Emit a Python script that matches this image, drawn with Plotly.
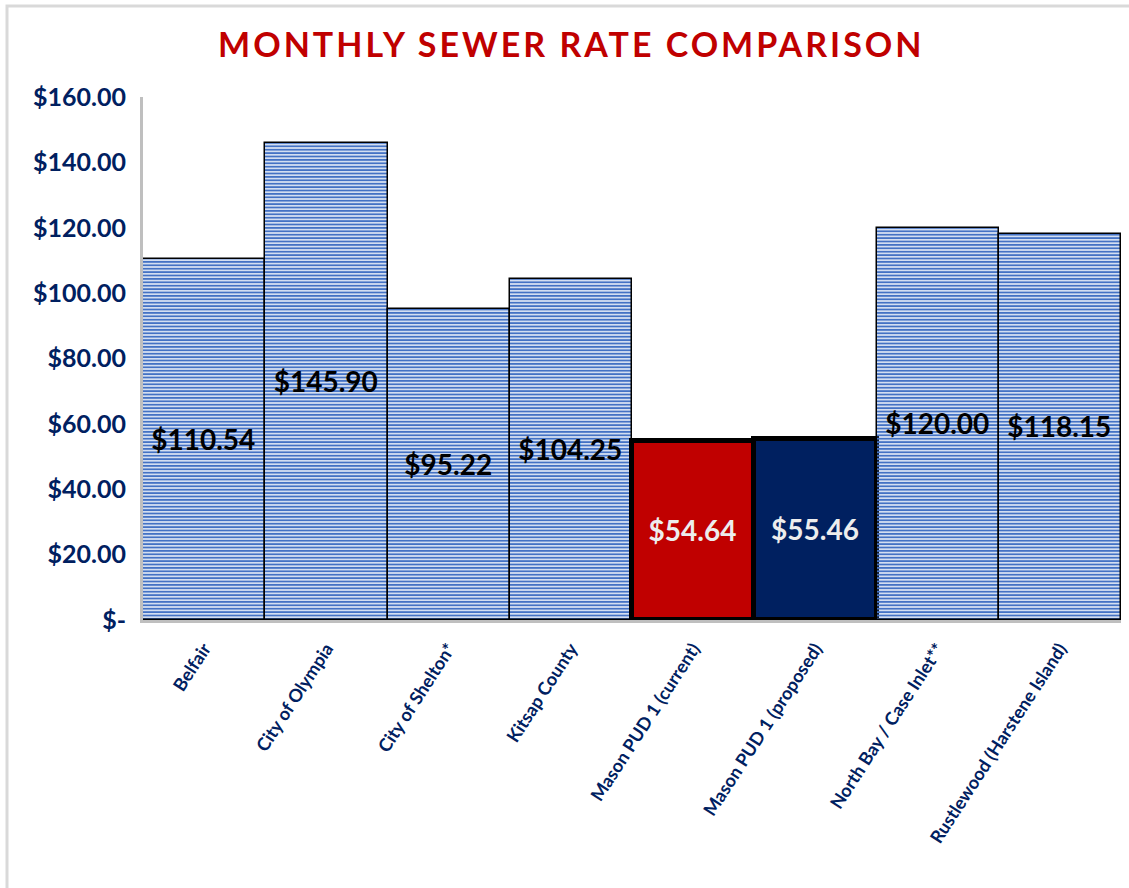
import plotly.graph_objects as go

categories = ["Belfair", "City of Olympia", "City of Shelton*", "Kitsap County",
              "Mason PUD 1 (current)", "Mason PUD 1 (proposed)",
              "North Bay / Case Inlet**", "Rustlewood (Harstene Island)"]
rates = [110.54, 145.90, 95.22, 104.25, 54.64, 55.46, 120.00, 118.15]
bar_colors = ["#4472C4", "#4472C4", "#4472C4", "#4472C4", "#C00000", "#002060", "#4472C4", "#4472C4"]
pattern_shapes = ["-", "-", "-", "-", "", "", "-", "-"]
label_colors = ["#000000"] * 4 + ["#EDEDED", "#EDEDED"] + ["#000000"] * 2
line_widths = [1.5, 1.5, 1.5, 1.5, 5, 5, 1.5, 1.5]
y_tickvals = [0, 20, 40, 60, 80, 100, 120, 140, 160]
y_ticktext = ["$-", "$20.00", "$40.00", "$60.00", "$80.00", "$100.00", "$120.00", "$140.00", "$160.00"]

FONT = "Lato"
NAVY = "#002060"

fig = go.Figure()
fig.add_trace(go.Bar(
    x=categories,
    y=rates,
    marker=dict(
        color=bar_colors,
        line=dict(color="#000000", width=line_widths),
        pattern=dict(shape=pattern_shapes, fgcolor="#4472C4", bgcolor="#D9E2F5",
                     size=3.4, solidity=0.62, fillmode="replace"),
    ),
    texttemplate="$%{y:.2f}",
    textposition="inside",
    insidetextanchor="middle",
    textangle=0,
    constraintext="none",
    insidetextfont=dict(family=FONT, size=28, color=label_colors, weight="bold"),
    cliponaxis=False,
    showlegend=False,
))

fig.update_layout(
    width=1129, height=888,
    margin=dict(l=143, r=8, t=97, b=268),
    paper_bgcolor="white", plot_bgcolor="white",
    bargap=0,
    title=dict(
        text='<span style="letter-spacing:3px">MONTHLY SEWER RATE COMPARISON</span>',
        x=0.506, xanchor="center", y=0.949, yanchor="middle",
        font=dict(family=FONT, size=34, color="#C00000", weight="bold"),
    ),
    xaxis=dict(
        showline=True, linecolor="#BFBFBF", linewidth=3,
        tickangle=-57, ticks="", ticklabelstandoff=8,
        tickfont=dict(family=FONT, size=18, color=NAVY, weight="bold"),
        showgrid=False,
    ),
    yaxis=dict(
        range=[0, 160], tickvals=y_tickvals, ticktext=y_ticktext,
        showline=True, linecolor="#BFBFBF", linewidth=3,
        showgrid=False, zeroline=False, ticks="", ticklabelstandoff=9,
        tickfont=dict(family=FONT, size=25, color=NAVY, weight="bold"),
    ),
    shapes=[
        dict(type="rect", xref="paper", yref="paper",
             x0=(7 - 143) / 978, x1=(1140 - 143) / 978,
             y0=(620 - 900) / 523, y1=(620 - 6) / 523,
             line=dict(color="#D9D9D9", width=3), fillcolor="rgba(0,0,0,0)", layer="below"),
    ],
)

fig.write_html("out.html", config={"displayModeBar": False},
               post_script="document.body.style.margin='0px';")
